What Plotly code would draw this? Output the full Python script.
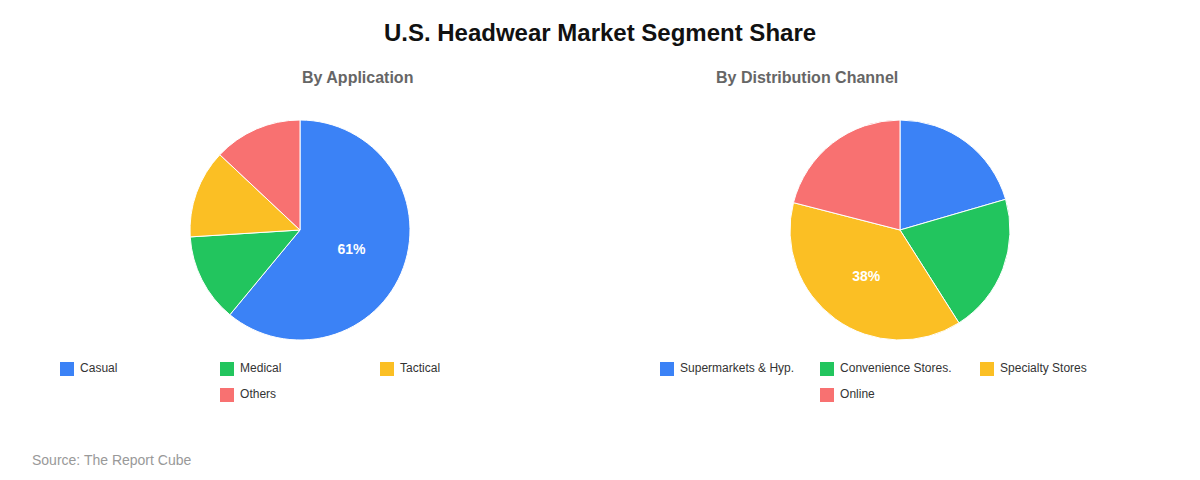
import plotly.graph_objects as go

app_labels = ["Casual", "Medical", "Tactical", "Others"]
app_values = [61, 13, 13, 13]
chan_labels = ["Supermarkets & Hyp.", "Convenience Stores.", "Specialty Stores", "Online"]
chan_values = [20.5, 20.5, 38, 21]
colors = ["#3b82f6", "#22c55e", "#fbbf24", "#f87171"]

W, H = 1200, 480
OFF = 8  # page body margin shifts the figure; compensate


def px(x):
    return (x - OFF) / W


def py(y):
    return 1 - (y - OFF) / H


def big_only(values):
    top = max(values)
    return ["<b>%{percent:.0%}</b>" if v == top else "" for v in values]


def legend_positions(n, center, per_row=3, step=160, top=369, row_h=26):
    # centred rows of legend items, like the original chart
    xs, ys = [], []
    for i in range(n):
        row, col = divmod(i, per_row)
        in_row = min(per_row, n - row * per_row)
        start = center - in_row * step / 2
        xs.append(start + col * step + 7)
        ys.append(top + row * row_h)
    return xs, ys


fig = go.Figure()
for labels, values, dom in [(app_labels, app_values, [px(190), px(410)]),
                            (chan_labels, chan_values, [px(790), px(1010)])]:
    fig.add_trace(go.Pie(
        labels=labels, values=values, sort=False, direction="clockwise", rotation=0,
        marker=dict(colors=colors, line=dict(color="white", width=1)),
        texttemplate=big_only(values), textposition="inside",
        textfont=dict(color="white", size=14, family="Arial"),
        domain=dict(x=dom, y=[py(340), py(120)]), hoverinfo="skip", showlegend=False,
    ))

for labels, center in [(app_labels, 300), (chan_labels, 900)]:
    xs, ys = legend_positions(len(labels), center)
    fig.add_trace(go.Scatter(
        x=xs, y=ys, mode="markers+text", text=labels, texttemplate="&nbsp;%{text}",
        textposition="middle right",
        marker=dict(symbol="square", size=14, color=colors[:len(labels)]),
        textfont=dict(size=12, color="#333", family="Arial"),
        hoverinfo="skip", showlegend=False, cliponaxis=False,
    ))

fig.update_layout(
    width=W, height=H,
    margin=dict(l=0, r=0, t=0, b=0),
    paper_bgcolor="white", plot_bgcolor="white",
    font=dict(family="Arial, Liberation Sans"),
    xaxis=dict(range=[OFF, W + OFF], visible=False, fixedrange=True),
    yaxis=dict(range=[H + OFF, OFF], visible=False, fixedrange=True),
    title=dict(text="<b>U.S. Headwear Market Segment Share</b>", x=px(600), y=py(33),
               xanchor="center", yanchor="middle", font=dict(size=24, color="#111")),
    annotations=[
        dict(text="<b>By Application</b>", x=px(300), y=py(77), xref="paper", yref="paper",
             yanchor="middle", showarrow=False, font=dict(size=16, color="#666")),
        dict(text="<b>By Distribution Channel</b>", x=px(900), y=py(77), xref="paper", yref="paper",
             yanchor="middle", showarrow=False, font=dict(size=16, color="#666")),
        dict(text="Source: The Report Cube", x=px(30), y=py(460), xref="paper", yref="paper",
             xanchor="left", yanchor="middle", showarrow=False, font=dict(size=14, color="#999")),
    ],
)

fig.write_html("out.html")
